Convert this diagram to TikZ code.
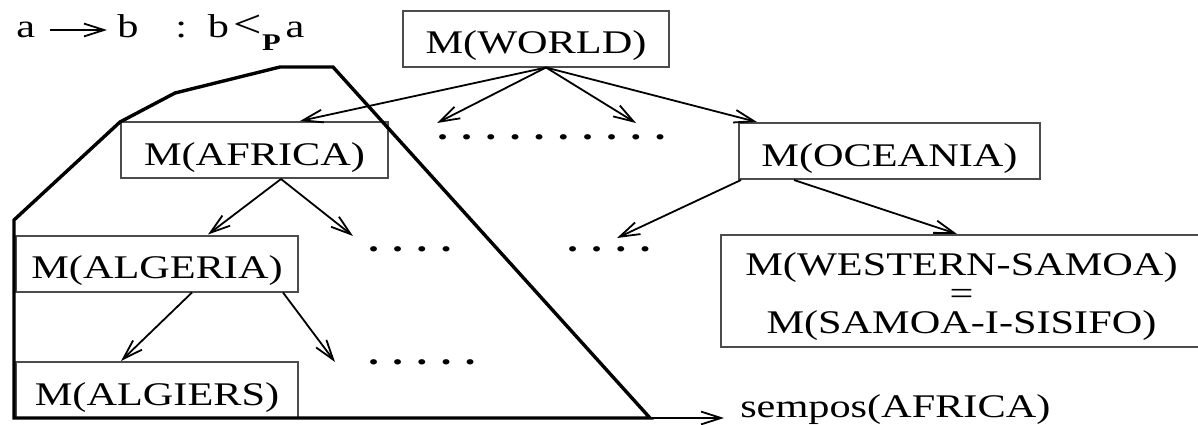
\documentclass[tikz,border=0pt]{standalone}
\usepackage{fontspec}
\setmainfont{Liberation Serif}[FakeStretch=1.28]
\usetikzlibrary{calc,arrows.meta}

\newcommand{\dotsrow}[1]{\foreach \k in {1,...,#1}{\textbf{.}\hspace{3.4mm}}}

\begin{document}
\begin{tikzpicture}[x=0.25mm, y=-0.25mm, font=\fontsize{23.5}{28}\selectfont]

\useasboundingbox (0,0) rectangle (1198,424);

% Module box
\tikzstyle{mbox}=[draw=black!70, line width=0.5mm, inner sep=0pt, minimum height=14mm, text height=7.5mm, text depth=0pt]

% Arrow
\tikzstyle{arr}=[line width=0.45mm, -{Straight Barb[length=5mm,width=3.2mm]}]

% Row of dots
\tikzstyle{dotrow}=[anchor=base west, inner sep=0pt]


%%%%%%%%%%%%%%%%%%%%%%%%%%%%%%%%%%%%%%%%%%%%%%%%%%%%%%%%%%%%%%%%
%
%       Legend
%
\node (lega)   [anchor=base west, inner sep=0pt] at (16,37)  {a};
\node (legb)   [anchor=base west, inner sep=0pt] at (117,37) {b};
\node (legrel) [anchor=base west, inner sep=0pt] at (175,37) {:\hspace{5.2mm}b\hspace{1.2mm}{\fontsize{28}{28}\selectfont<}\raisebox{-3.4mm}{\fontsize{17}{17}\selectfont\textbf{P}}\hspace{1.2mm}a};
\draw [arr] ($(lega.base east)+(15,-7)$) -- ($(legb.base west)+(-10,-7)$);


%%%%%%%%%%%%%%%%%%%%%%%%%%%%%%%%%%%%%%%%%%%%%%%%%%%%%%%%%%%%%%%%
%
%       Modules
%
\node (world)   [mbox, minimum width=66.5mm]  at (536,38.5)  {M(WORLD)};
\node (africa)  [mbox, minimum width=66.75mm] at (254.5,150) {M(AFRICA)};
\node (oceania) [mbox, minimum width=75.25mm] at (889.5,151) {M(OCEANIA)};
\node (algeria) [mbox, minimum width=70.5mm]  at (157,263.5) {M(ALGERIA)};
\node (algiers) [mbox, minimum width=70.5mm]  at (157,390)   {M(ALGIERS)};
\node (samoa)   [draw=black!70, line width=0.5mm, minimum width=120.25mm, minimum height=28mm, align=center, font=\fontsize{23.5}{20.5}\selectfont] at (961.5,291) {\rule{0pt}{8.6mm}M(WESTERN-SAMOA)\\=\\M(SAMOA-I-SISIFO)};

% dots
\node (topdots) [dotrow] at (437,139) {\dotsrow{10}};
\node (afdots)  [dotrow] at (368,251) {\dotsrow{4}};
\node (ocdots)  [dotrow] at (567,251) {\dotsrow{4}};
\node (agdots)  [dotrow] at (368,364) {\dotsrow{5}};


%%%%%%%%%%%%%%%%%%%%%%%%%%%%%%%%%%%%%%%%%%%%%%%%%%%%%%%%%%%%%%%%
%
%       Arrows
%
% from M(WORLD)
\coordinate (wout) at ($(world.south)+(10,0)$);
\draw [arr] (wout) -- ($(africa.north)+(45.5,0)$);
\draw [arr] (wout) -- ($(topdots.base west)+(0,-16)$);
\draw [arr] (wout) -- ($(topdots.base west)+(199,-16)$);
\draw [arr] (wout) -- ($(oceania.north west)+(19,0)$);

% from M(AFRICA)
\draw [arr] ($(africa.south)+(26.5,0)$) -- ($(algeria.north)+(51,0)$);
\draw [arr] ($(africa.south)+(26.5,0)$) -- ($(afdots.base west)+(-15,-15)$);

% from M(ALGERIA)
\draw [arr] ($(algeria.south)+(35,0)$)  -- ($(algiers.north)+(-36,0)$);
\draw [arr] ($(algeria.south)+(126,0)$) -- ($(agdots.base west)+(-33,-2)$);

% from M(OCEANIA)
\draw [arr] ($(oceania.south west)+(3,0)$)  -- ($(ocdots.base west)+(50,-13)$);
\draw [arr] ($(oceania.south west)+(56,0)$) -- ($(samoa.north)+(-4.5,0)$);


%%%%%%%%%%%%%%%%%%%%%%%%%%%%%%%%%%%%%%%%%%%%%%%%%%%%%%%%%%%%%%%%
%
%       sempos(AFRICA)
%
\draw [line width=0.85mm, line join=miter] (14,418) -- (14,220) -- (120,122) -- (175,93) -- (280,67) -- (333,67) -- (650,418) -- cycle;
\coordinate (spend) at (650,418);
\node (sempos) [anchor=base west, inner sep=0pt] at (740,417) {sempos(AFRICA)};
\draw [arr] (spend) -- ($(sempos.base west)+(-16,1)$);

\end{tikzpicture}
\end{document}
